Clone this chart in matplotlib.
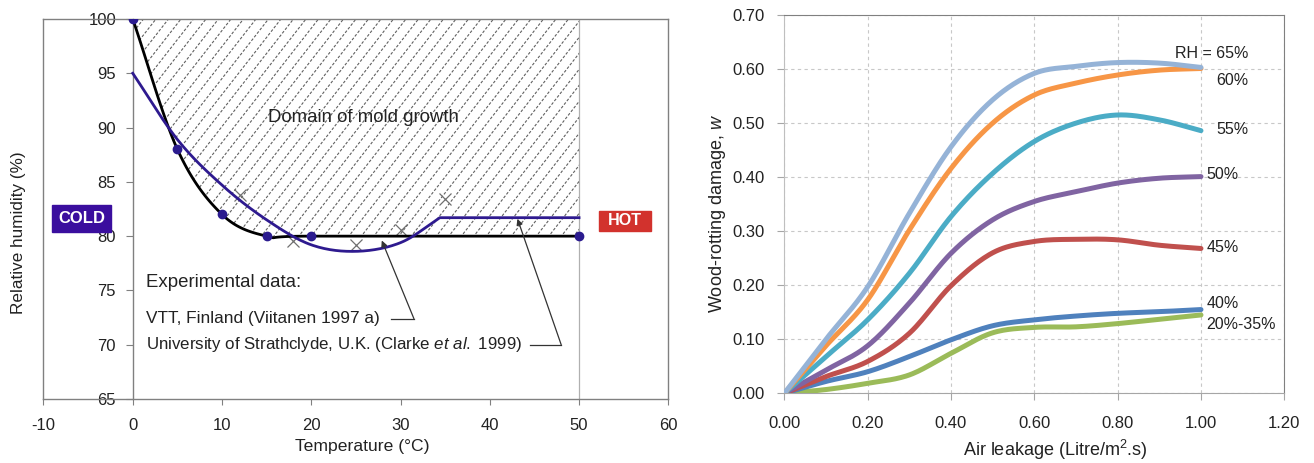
import matplotlib.pyplot as plt
import numpy as np
from matplotlib.collections import LineCollection
from matplotlib.patches import Polygon, Rectangle

plt.rcParams['font.family'] = ['Liberation Sans', 'DejaVu Sans']
plt.rcParams['mathtext.fontset'] = 'custom'
plt.rcParams['mathtext.rm'] = 'Liberation Sans'
plt.rcParams['mathtext.it'] = 'Liberation Sans:italic'
plt.rcParams['axes.unicode_minus'] = False

# left chart: limit RH for mould growth vs temperature
temp_vtt = [0, 5, 10, 15, 20, 50]
rh_vtt = [100, 88, 82, 80, 80, 80]
temp_fit = [0, 5, 10, 15, 20, 25, 30, 34.4, 50]
rh_fit = [95, 88.9, 84.7, 81.5, 79.2, 78.6, 79.4, 81.7, 81.7]
temp_exp = [12, 18, 25, 30, 35]
rh_exp = [83.8, 79.55, 79.2, 80.6, 83.4]

# right chart: wood-rotting damage vs air leakage
leak = [0.0, 0.1, 0.2, 0.3, 0.4, 0.5, 0.6, 0.7, 0.8, 0.9, 1.0]
w_65 = [0, 0.100, 0.197, 0.333, 0.456, 0.543, 0.592, 0.605, 0.612, 0.611, 0.603]
w_60 = [0, 0.088, 0.173, 0.302, 0.416, 0.500, 0.552, 0.574, 0.589, 0.598, 0.601]
w_55 = [0, 0.068, 0.136, 0.222, 0.327, 0.407, 0.466, 0.500, 0.515, 0.506, 0.486]
w_50 = [0, 0.043, 0.088, 0.167, 0.259, 0.321, 0.355, 0.373, 0.389, 0.398, 0.401]
w_45 = [0, 0.031, 0.059, 0.111, 0.199, 0.260, 0.281, 0.285, 0.284, 0.274, 0.268]
w_40 = [0, 0.022, 0.040, 0.068, 0.099, 0.125, 0.136, 0.143, 0.148, 0.151, 0.155]
w_20_35 = [0, 0.007, 0.0185, 0.034, 0.074, 0.112, 0.122, 0.123, 0.129, 0.137, 0.145]
rh_labels = ['RH = 65%', '60%', '55%', '50%', '45%', '40%', '20%-35%']


def smooth(x, y, n=24):
    # catmull-rom through the points, close to excel's smoothed line
    p = np.column_stack([x, y]).astype(float)
    p = np.vstack([2 * p[0] - p[1], p, 2 * p[-1] - p[-2]])
    t = np.linspace(0, 1, n, endpoint=False)[:, None]
    out = []
    for i in range(1, len(p) - 2):
        p0, p1, p2, p3 = p[i - 1], p[i], p[i + 1], p[i + 2]
        out.append(0.5 * (2 * p1 + (p2 - p0) * t
                          + (2 * p0 - 5 * p1 + 4 * p2 - p3) * t ** 2
                          + (3 * p1 - p0 - 3 * p2 + p3) * t ** 3))
    out.append(p[-2][None])
    out = np.vstack(out)
    return out[:, 0], out[:, 1]


fig = plt.figure(figsize=(13.14, 4.63), dpi=100)
ax = fig.add_axes([0.0331, 0.1382, 0.4755, 0.8208])
ax2 = fig.add_axes([0.5969, 0.1505, 0.3805, 0.8171])
txt = '#222222'

# ---- left chart ----
frame = '#808080'
ax.set_xlim(-10, 60)
ax.set_ylim(65, 100)
ax.spines['left'].set_position(('data', 0))
for s in ax.spines.values():
    s.set_color(frame)
    s.set_linewidth(1.0)
ax.plot([0, 0], [0, 1], transform=ax.transAxes, color=frame, lw=1.0, clip_on=False)
ax.axvline(50, color='#b0b0b0', lw=0.9)
ax.set_xticks(range(-10, 61, 10))
ax.set_yticks(range(65, 101, 5))
ax.tick_params(axis='x', direction='out', length=4, color=frame, pad=10, labelsize=12,
               labelcolor=txt)
ax.tick_params(axis='y', direction='out', length=5, color=frame, pad=7, labelsize=12,
               labelcolor=txt)

bx, by = smooth(temp_vtt, rh_vtt)
region = Polygon(np.column_stack([np.r_[bx, bx[::-1]], np.r_[by, np.full_like(by, 100)]]),
                 closed=True, fc='none', ec='none', transform=ax.transData)
ax.add_patch(region)

# dashed diagonal hatch, clipped to the domain of mold growth
W, H = 0.4755 * 1314, 0.8208 * 463
run = H / np.tan(np.radians(52))
segs = [[(c / W, 0), ((c + run) / W, 1)] for c in np.arange(-run, W, 12.5)]
hatch = LineCollection(segs, colors='#606060', linewidths=0.8, linestyles=(0, (2.5, 1.6)),
                       transform=ax.transAxes)
hatch.set_clip_path(region)
ax.add_collection(hatch)

ax.plot(bx, by, color='black', lw=2.0, zorder=3)
ax.plot(temp_vtt, rh_vtt, 'o', color='#2b1b8f', ms=6, zorder=4)
fx, fy = smooth(temp_fit[:-1], rh_fit[:-1])
ax.plot(np.r_[fx, temp_fit[-1]], np.r_[fy, rh_fit[-1]], color='#2e1a8f', lw=2.0, zorder=3)
ax.plot(temp_exp, rh_exp, 'x', color='#707070', ms=8, mew=0.9, zorder=2)

ax.text(15.2, 90.9, 'Domain of mold growth', fontsize=13.4, va='center', color=txt)
ax.text(1.5, 75.7, 'Experimental data:', fontsize=13.4, va='center', color=txt)
ax.text(1.5, 72.4, 'VTT, Finland (Viitanen 1997 a)', fontsize=12.4, va='center', color=txt)
ax.text(1.5, 70.0, r'University of Strathclyde, U.K. (Clarke $\it{et\ al.}$ 1999)',
        fontsize=12.2, va='center', color=txt)

ax.plot([28.9, 31.5], [72.4, 72.4], color='#333333', lw=0.9)
ax.annotate('', xy=(27.9, 79.6), xytext=(31.5, 72.4),
            arrowprops=dict(arrowstyle='-|>', color='#333333', lw=0.9, mutation_scale=9,
                            shrinkA=0, shrinkB=0), zorder=5)
ax.plot([44.5, 48.0], [70.0, 70.0], color='#333333', lw=0.9)
ax.annotate('', xy=(43.1, 81.6), xytext=(48.0, 70.0),
            arrowprops=dict(arrowstyle='-|>', color='#333333', lw=0.9, mutation_scale=9,
                            shrinkA=0, shrinkB=0), zorder=5)

ax.add_patch(Rectangle((-9.03, 80.41), 6.61, 2.46, color='#3a0e9e', zorder=5, clip_on=False))
ax.text(-5.72, 81.64, 'COLD', color='white', fontsize=12, fontweight='bold',
        ha='center', va='center', zorder=6)
ax.add_patch(Rectangle((52.18, 80.47), 5.87, 1.87, color='#d2322d', zorder=5))
ax.text(55.1, 81.4, 'HOT', color='white', fontsize=11.6, fontweight='bold',
        ha='center', va='center', zorder=6)

fig.text(0.0137, 0.498, 'Relative humidity (%)', rotation=90, ha='center', va='center',
         fontsize=12.3, color=txt)
fig.text(0.2755, 0.0346, 'Temperature (°C)', ha='center', va='center', fontsize=12.6,
         color=txt)

# ---- right chart ----
ax2.set_xlim(0, 1.2)
ax2.set_ylim(0, 0.7)
ax2.spines['left'].set_color('#bfbfbf')
ax2.spines['bottom'].set_color('#a6a6a6')
ax2.spines['top'].set_color(frame)
ax2.spines['right'].set_color(frame)
ax2.set_xticks(np.arange(0, 1.21, 0.2))
ax2.set_yticks(np.arange(0, 0.71, 0.1))
ax2.set_xticklabels([f'{v:.2f}' for v in np.arange(0, 1.21, 0.2)])
ax2.set_yticklabels([f'{v:.2f}' for v in np.arange(0, 0.71, 0.1)])
ax2.tick_params(axis='both', direction='out', length=5, color='#a6a6a6', labelsize=12,
                labelcolor=txt)
ax2.tick_params(axis='x', pad=11)
ax2.tick_params(axis='y', pad=9)
ax2.grid(True, color='#c8c8c8', lw=0.8, linestyle=(0, (3, 3)))

series = [w_20_35, w_40, w_45, w_50, w_55, w_60, w_65]
colors = ['#9bbb59', '#4f81bd', '#c0504d', '#8064a2', '#4bacc6', '#f79646', '#95b3d7']
for w, c in zip(series, colors):
    sx, sy = smooth(leak, w)
    ax2.plot(sx, sy, color=c, lw=3.6, solid_capstyle='round', zorder=3)

label_x = [0.938, 1.036, 1.036, 1.014, 1.013, 1.013, 1.012]
label_y = [0.628, 0.579, 0.4876, 0.404, 0.269, 0.167, 0.128]
for t, lx, ly in zip(rh_labels, label_x, label_y):
    ax2.text(lx, ly, t, fontsize=11.5, va='center', color=txt, zorder=4)

fig.text(0.5457, 0.538, r'Wood-rotting damage, $\it{w}$', rotation=90, ha='center',
         va='center', fontsize=13, color=txt)
fig.text(0.803, 0.028, r'Air leakage (Litre/m$^2$.s)', ha='center', va='center',
         fontsize=13, color=txt)

fig.savefig('out.png', dpi=100)
